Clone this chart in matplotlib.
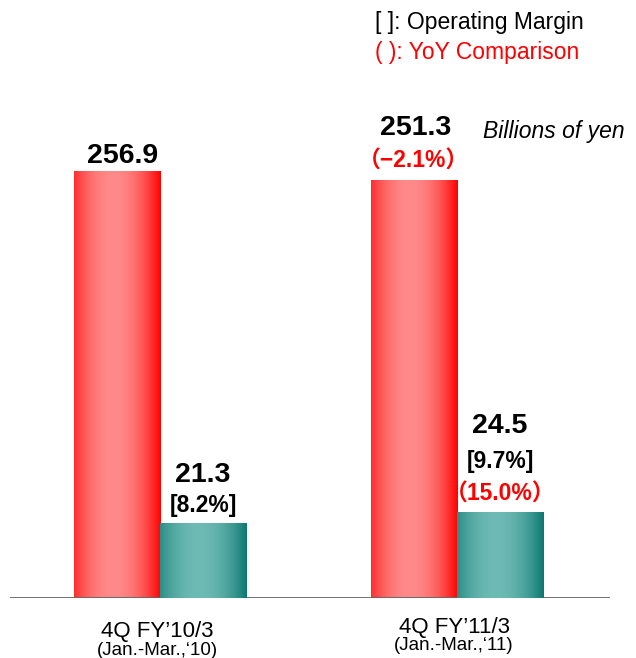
import numpy as np
import matplotlib.pyplot as plt
import matplotlib.transforms as mtransforms
from matplotlib.patches import Rectangle

# ---- data ----
periods = ["4Q FY\u201910/3", "4Q FY\u201911/3"]
period_sub = ["(Jan.-Mar.,\u201810)", "(Jan.-Mar.,\u201811)"]
net_sales = [256.9, 251.3]
op_income = [21.3, 24.5]
op_margin = ["[8.2%]", "[9.7%]"]
sales_yoy = [None, "\uff08\u22122.1%\uff09"]
income_yoy = [None, "\uff0815.0%\uff09"]

# ---- style ----
RED_EDGE = np.array([255, 0, 0]) / 255
RED_MID = np.array([255, 138, 138]) / 255
TEAL_EDGE = np.array([12, 120, 112]) / 255
TEAL_MID = np.array([110, 186, 181]) / 255
BOLD = ["Liberation Sans Narrow", "Liberation Sans", "Noto Sans CJK JP"]
REG = ["Liberation Sans", "DejaVu Sans"]

W = 0.29
x = np.arange(len(periods))

fig = plt.figure(figsize=(6.36, 6.58), dpi=100)
ax = fig.add_axes([10 / 636, 60 / 658, 600 / 636, 498 / 658])
ax2 = ax.twinx()
for a in (ax, ax2):
    a.set_xlim(-0.505, 1.515)
    for s in a.spines.values():
        s.set_visible(False)
    a.set_xticks([])
    a.set_yticks([])
ax.set_ylim(0, 299.6)
ax2.set_ylim(0, 141.1)


def grad_bar(a, xc, h, edge, mid):
    t = np.linspace(0, 1, 200)
    w = np.clip(1 - ((t - 0.45) / 0.55) ** 2, 0, 1)
    img = edge[None, :] + (mid - edge)[None, :] * w[:, None]
    img = img[None, :, :]
    x0 = xc - W / 2
    rect = Rectangle((x0, 0), W, h, facecolor="none", edgecolor="none")
    a.add_patch(rect)
    im = a.imshow(img, extent=(x0, x0 + W, 0, h), aspect="auto",
                  interpolation="bilinear", zorder=2)
    im.set_clip_path(rect)


def label(a, xc, y, txt, dy, color="black", size=20.5, dx=0):
    a.annotate(txt, (xc, y), xytext=(dx, dy), textcoords="offset pixels",
               ha="center", va="baseline", fontsize=size, color=color,
               fontweight="bold", family=BOLD, zorder=5)


for i in range(len(periods)):
    xr = x[i] - W / 2
    xt = x[i] + W / 2
    grad_bar(ax, xr, net_sales[i], RED_EDGE, RED_MID)
    grad_bar(ax2, xt, op_income[i], TEAL_EDGE, TEAL_MID)

    # net sales labels
    if sales_yoy[i]:
        label(ax, xr, net_sales[i], sales_yoy[i], 13, color="red", size=16.5)
        label(ax, xr, net_sales[i], f"{net_sales[i]:.1f}", 45, dx=2)
    else:
        label(ax, xr, net_sales[i], f"{net_sales[i]:.1f}", 8, dx=6)

    # operating income labels
    if income_yoy[i]:
        label(ax2, xt, op_income[i], income_yoy[i], 11, color="red", size=16.5)
        label(ax2, xt, op_income[i], op_margin[i], 44, size=16.5)
        label(ax2, xt, op_income[i], f"{op_income[i]:.1f}", 79)
    else:
        label(ax2, xt, op_income[i], op_margin[i], 11, size=16.5)
        label(ax2, xt, op_income[i], f"{op_income[i]:.1f}", 41)

# baseline
ax.axhline(0, color="#666666", lw=2, zorder=4)

# category labels
trans = mtransforms.blended_transform_factory(ax.transData, fig.transFigure)
lab_y = [(1 - 637 / 658, 1 - 655 / 658), (1 - 633 / 658, 1 - 650 / 658)]
for i in range(len(periods)):
    fig.text(x[i] - 0.01, lab_y[i][0], periods[i], transform=trans,
             ha="center", va="baseline", fontsize=16, family=REG)
    fig.text(x[i] - 0.01, lab_y[i][1], period_sub[i], transform=trans,
             ha="center", va="baseline", fontsize=13.5, family=REG)

# notes
fig.text(375 / 636, 1 - 29 / 658, "[ ]: Operating Margin", fontsize=16.5,
         family=REG, va="baseline")
fig.text(375 / 636, 1 - 59 / 658, "( ): YoY Comparison", fontsize=16.5,
         family=REG, va="baseline", color="red")
fig.text(483 / 636, 1 - 138 / 658, "Billions of yen", fontsize=16.5,
         family=REG, style="italic", va="baseline")

fig.savefig("out.png", dpi=100)
